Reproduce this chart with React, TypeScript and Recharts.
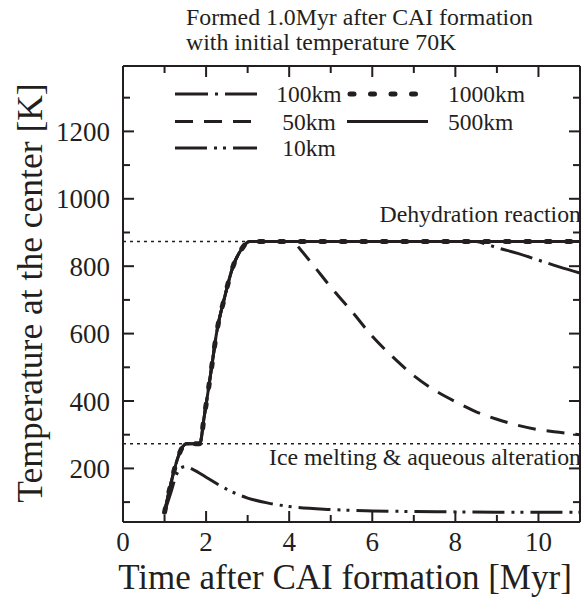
import { LineChart, Line, XAxis, YAxis, ReferenceLine } from 'recharts';

const INK = '#231f20';
const FONT = '"Liberation Serif", "Times New Roman", serif';

// times in Myr after CAI, central temperature in K
const time1000 = [1.0, 1.53, 1.85, 1.95, 2.05, 2.15, 2.25, 2.45, 2.65, 2.85, 3.05, 11.0];
const temp1000 = [70, 273, 273, 350, 430, 515, 600, 710, 800, 850, 873, 873];
const time500 = [1.0, 1.53, 1.85, 1.95, 2.05, 2.15, 2.25, 2.45, 2.65, 2.85, 3.05, 11.0];
const temp500 = [70, 273, 273, 350, 430, 515, 600, 710, 800, 850, 873, 873];
const time100 = [1.0, 1.53, 1.85, 1.95, 2.05, 2.15, 2.25, 2.45, 2.65, 2.85, 3.05, 8.5, 8.75, 9.0, 9.5, 10.0, 10.5, 11.0];
const temp100 = [70, 273, 273, 350, 430, 515, 600, 710, 800, 850, 873, 873, 865, 855, 838, 818, 798, 780];
const time50 = [1.0, 1.53, 1.85, 1.95, 2.05, 2.15, 2.25, 2.45, 2.65, 2.85, 3.05, 4.0, 4.15, 4.3, 4.6, 5.0, 5.5, 6.0, 6.5, 7.0, 7.5, 8.0, 8.5, 9.0, 9.5, 10.0, 10.5, 11.0];
const temp50 = [70, 273, 273, 350, 430, 515, 600, 710, 800, 850, 873, 873, 866, 845, 800, 738, 667, 592, 530, 475, 432, 398, 368, 346, 328, 315, 307, 300];
const time10 = [1.0, 1.15, 1.3, 1.4, 1.5, 1.7, 2.0, 2.5, 3.0, 3.5, 4.0, 5.0, 6.0, 7.0, 8.0, 9.0, 10.0, 11.0];
const temp10 = [70, 128, 185, 202, 205, 196, 174, 138, 112, 97, 87, 78, 74, 72, 71, 70, 70, 70];

const xTicks = [0, 1, 2, 3, 4, 5, 6, 7, 8, 9, 10, 11];
const yTicks = [100, 200, 300, 400, 500, 600, 700, 800, 900, 1000, 1100, 1200, 1300];
const ICE_T = 273;
const DEHYD_T = 873;

const rows = (ts: number[], vs: number[]) => ts.map((t, i) => ({ time: t, temp: vs[i] }));

const DASH_100 = '33 7 3 7';
const DASH_50 = '18 11';
const DASH_10 = '32 7 3 6 3 7';
const DOTS_1000 = '4 16.5';

const xMajor = (v: number) => v % 2 === 0;
const yMajor = (v: number) => v % 200 === 0;

function BottomTick({ x, y, payload }: any) {
  const big = xMajor(payload.value);
  return (
    <g>
      <line x1={x} x2={x} y1={y} y2={y - (big ? 11 : 7)} stroke={INK} strokeWidth={2} />
      {big && (
        <text x={x} y={y + 29} textAnchor="middle" fontSize={27} fontFamily={FONT} fill={INK}>
          {payload.value}
        </text>
      )}
    </g>
  );
}

function TopTick({ x, y, payload }: any) {
  const big = xMajor(payload.value);
  return <line x1={x} x2={x} y1={y} y2={y + (big ? 11 : 7)} stroke={INK} strokeWidth={2} />;
}

function LeftTick({ x, y, payload }: any) {
  const big = yMajor(payload.value);
  return (
    <g>
      <line x1={x} x2={x + (big ? 11 : 7)} y1={y} y2={y} stroke={INK} strokeWidth={2} />
      {big && (
        <text x={x - 13} y={y + 9.5} textAnchor="end" fontSize={27} fontFamily={FONT} fill={INK}>
          {payload.value}
        </text>
      )}
    </g>
  );
}

function RightTick({ x, y, payload }: any) {
  const big = yMajor(payload.value);
  return <line x1={x} x2={x - (big ? 11 : 7)} y1={y} y2={y} stroke={INK} strokeWidth={2} />;
}

function RefText({ viewBox, text, dy }: any) {
  if (!viewBox) return null;
  return (
    <text x={viewBox.x + viewBox.width + 1} y={viewBox.y + dy} textAnchor="end" fontSize={23.8} fontFamily={FONT} fill={INK}>
      {text}
    </text>
  );
}

function LegendOverlay() {
  const lab = { fontSize: 23.5, fontFamily: FONT, fill: INK } as const;
  const rowsY = [94, 121.5, 148];
  return (
    <g>
      <line x1={175} x2={257} y1={rowsY[0]} y2={rowsY[0]} stroke={INK} strokeWidth={3} strokeDasharray={DASH_100} />
      <text x={309} y={rowsY[0] + 8} textAnchor="middle" {...lab}>100km</text>
      <line x1={175} x2={257} y1={rowsY[1]} y2={rowsY[1]} stroke={INK} strokeWidth={3} strokeDasharray={DASH_50} />
      <text x={309} y={rowsY[1] + 8} textAnchor="middle" {...lab}>50km</text>
      <line x1={175} x2={257} y1={rowsY[2]} y2={rowsY[2]} stroke={INK} strokeWidth={3} strokeDasharray={DASH_10} />
      <text x={309} y={rowsY[2] + 8} textAnchor="middle" {...lab}>10km</text>
      <line x1={350} x2={416} y1={rowsY[0]} y2={rowsY[0]} stroke={INK} strokeWidth={5} strokeLinecap="round" strokeDasharray={DOTS_1000} />
      <text x={448} y={rowsY[0] + 8} {...lab}>1000km</text>
      <line x1={347} x2={428} y1={rowsY[1]} y2={rowsY[1]} stroke={INK} strokeWidth={3} />
      <text x={448} y={rowsY[1] + 8} {...lab}>500km</text>
    </g>
  );
}

export default function App() {
  return (
    <div style={{ position: 'absolute', left: 0, top: 0, width: 587, height: 598, background: '#fff' }}>
      <LineChart width={587} height={598} margin={{ top: 65, right: 6, bottom: 75, left: 122 }}>
        <XAxis dataKey="time" type="number" domain={[0, 11]} ticks={xTicks} interval={0} allowDataOverflow
          height={1} tickSize={0} tickMargin={0} tickLine={false} tick={<BottomTick />}
          axisLine={{ stroke: INK, strokeWidth: 2 }} />
        <XAxis xAxisId="top" orientation="top" dataKey="time" type="number" domain={[0, 11]} ticks={xTicks} interval={0}
          allowDataOverflow height={1} tickSize={0} tickMargin={0} tickLine={false} tick={<TopTick />}
          axisLine={{ stroke: INK, strokeWidth: 2 }} />
        <YAxis type="number" domain={[41, 1394]} ticks={yTicks} interval={0} allowDataOverflow
          width={1} tickSize={0} tickMargin={0} tickLine={false} tick={<LeftTick />}
          axisLine={{ stroke: INK, strokeWidth: 2 }} />
        <YAxis yAxisId="right" orientation="right" type="number" domain={[41, 1394]} ticks={yTicks} interval={0}
          allowDataOverflow width={1} tickSize={0} tickMargin={0} tickLine={false} tick={<RightTick />}
          axisLine={{ stroke: INK, strokeWidth: 2 }} />
        <ReferenceLine y={DEHYD_T} stroke={INK} strokeWidth={1.5} strokeDasharray="3 4"
          label={<RefText text="Dehydration reaction" dy={-20} />} />
        <ReferenceLine y={ICE_T} stroke={INK} strokeWidth={1.5} strokeDasharray="3 4"
          label={<RefText text="Ice melting & aqueous alteration" dy={21} />} />
        <Line data={rows(time500, temp500)} dataKey="temp" name="500km" type="monotone" stroke={INK} strokeWidth={3}
          dot={false} isAnimationActive={false} />
        <Line data={rows(time50, temp50)} dataKey="temp" name="50km" type="monotone" stroke={INK} strokeWidth={3}
          strokeDasharray={DASH_50} dot={false} isAnimationActive={false} />
        <Line data={rows(time10, temp10)} dataKey="temp" name="10km" type="monotone" stroke={INK} strokeWidth={3}
          strokeDasharray={DASH_10} dot={false} isAnimationActive={false} />
        <Line data={rows(time100, temp100)} dataKey="temp" name="100km" type="monotone" stroke={INK} strokeWidth={3}
          strokeDasharray={DASH_100} dot={false} isAnimationActive={false} />
        <Line data={rows(time1000, temp1000)} dataKey="temp" name="1000km" type="monotone" stroke={INK} strokeWidth={5}
          strokeLinecap="round" strokeDasharray={DOTS_1000} dot={false} isAnimationActive={false} />
      </LineChart>
      <svg width={587} height={598} style={{ position: 'absolute', left: 0, top: 0, pointerEvents: 'none' }}>
        <text x={186} y={25} fontSize={23.8} fontFamily={FONT} fill={INK}>Formed 1.0Myr after CAI formation</text>
        <text x={186} y={50} fontSize={23.8} fontFamily={FONT} fill={INK}>with initial temperature 70K</text>
        <LegendOverlay />
        <text x={345} y={589} textAnchor="middle" fontSize={35} fontFamily={FONT} fill={INK}>
          Time after CAI formation [Myr]
        </text>
        <text transform="rotate(-90)" x={-293} y={42} textAnchor="middle" fontSize={35.5} fontFamily={FONT} fill={INK}>
          Temperature at the center [K]
        </text>
      </svg>
    </div>
  );
}
